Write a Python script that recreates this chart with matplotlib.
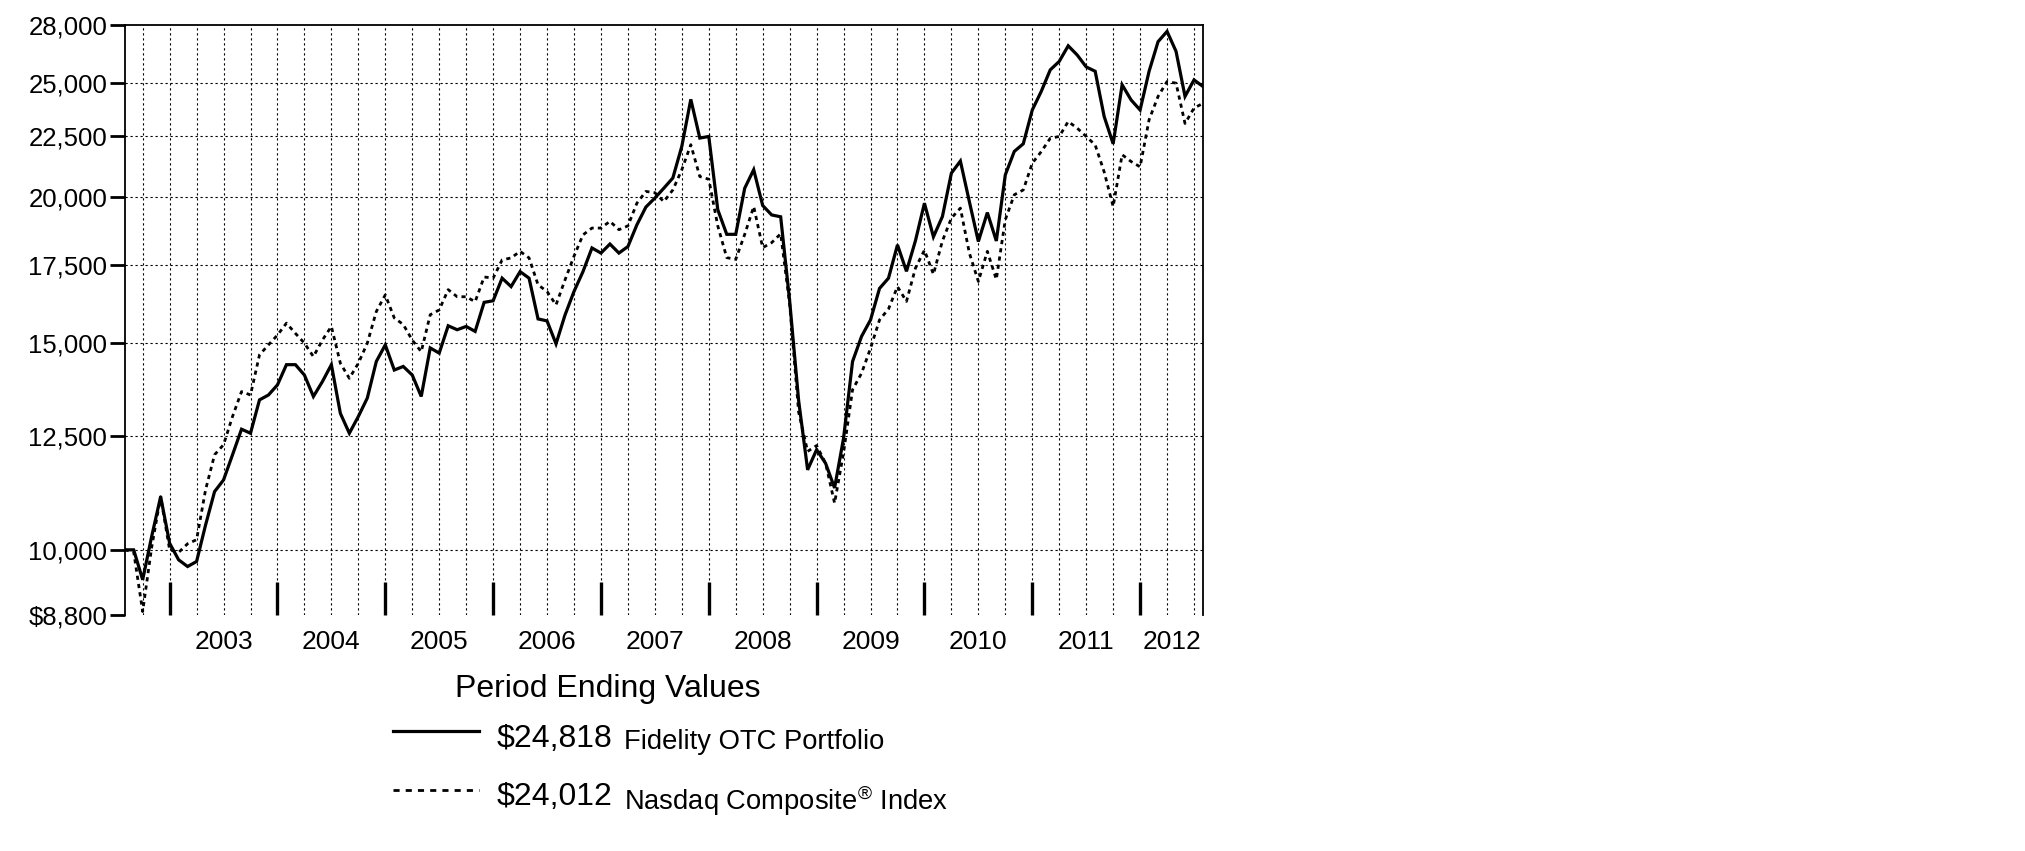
import numpy as np
import matplotlib
matplotlib.use('Agg')
import matplotlib.pyplot as plt
from matplotlib.lines import Line2D
from matplotlib.ticker import FixedLocator, FixedFormatter, NullLocator

plt.rcParams['font.family'] = ['Liberation Sans', 'DejaVu Sans']
plt.rcParams['mathtext.fontset'] = 'custom'
plt.rcParams['mathtext.rm'] = 'Liberation Sans'

# miesięczne wartości od 31.07.2002 do 31.07.2012 (indeks = numer miesiąca)
start_year = 2002
start_month = 7

fidelity_otc = [
    10000, 10000, 9430, 10265, 11100, 10130, 9806, 9678, 9774, 10500,
    11210, 11470, 12050, 12670, 12570, 13420, 13550, 13820, 14380, 14380,
    14090, 13510, 13910, 14380, 13070, 12570, 12990, 13470, 14470, 14950,
    14230, 14330, 14090, 13510, 14860, 14710, 15520, 15400, 15500, 15350,
    16250, 16300, 17040, 16760, 17260, 17040, 15730, 15670, 14980, 15850,
    16600, 17260, 18080, 17900, 18220, 17900, 18130, 18920, 19590, 19940,
    20330, 20740, 22070, 24200, 22430, 22500, 19490, 18570, 18570, 20330,
    21080, 19650, 19290, 19220, 16300, 13400, 11700, 12170, 11850, 11290,
    12450, 14470, 15200, 15700, 16700, 17040, 18190, 17270, 18340, 19740,
    18480, 19230, 20940, 21440, 19800, 18310, 19380, 18330, 20870, 21850,
    22180, 23700, 24580, 25640, 26070, 26880, 26400, 25790, 25570, 23400,
    22180, 24900, 24170, 23700, 25570, 27100, 27650, 26590, 24340, 25140,
    24818,
]

nasdaq = [
    10000, 9960, 8860, 10050, 11100, 10000, 9950, 10120, 10200, 11250,
    12050, 12290, 12990, 13640, 13550, 14660, 14950, 15240, 15600, 15290,
    15000, 14610, 15090, 15500, 14420, 14000, 14420, 15000, 15960, 16490,
    15760, 15560, 15090, 14750, 15860, 16010, 16660, 16430, 16430, 16270,
    17080, 17040, 17660, 17730, 17960, 17730, 16820, 16600, 16170, 16980,
    17790, 18550, 18800, 18800, 19050, 18740, 18880, 19740, 20200, 20150,
    19800, 20260, 21080, 22140, 20800, 20690, 18880, 17740, 17680, 18570,
    19610, 18090, 18270, 18590, 16200, 13100, 12130, 12270, 11850, 10960,
    12100, 13690, 14140, 14850, 15700, 16040, 16760, 16280, 17380, 18000,
    17170, 18330, 19170, 19550, 17900, 16930, 17960, 17000, 19110, 20070,
    20260, 21350, 21840, 22420, 22500, 23170, 22870, 22500, 22130, 20990,
    19610, 21710, 21420, 21200, 23250, 24340, 25060, 24980, 23080, 23790,
    24012,
]

y_ticks = [8800, 10000, 12500, 15000, 17500, 20000, 22500, 25000, 28000]
y_labels = ['$8,800', '10,000', '12,500', '15,000', '17,500', '20,000',
            '22,500', '25,000', '28,000']
years = list(range(2003, 2013))

legend_title = 'Period Ending Values'
legend_values = ['$24,818', '$24,012']
legend_names = ['Fidelity OTC Portfolio', 'Nasdaq Composite$^{\u00ae}$ Index']

n = len(fidelity_otc)
t = np.arange(n)
months = [(start_month - 1 + i) % 12 + 1 for i in t]

W, H = 2025, 851
fig = plt.figure(figsize=(W / 100, H / 100), dpi=100)
ax = fig.add_axes([124.7 / W, (H - 615) / H, (1203 - 124.7) / W, 590 / H])

ax.plot(t, fidelity_otc, color='black', lw=2.3, solid_joinstyle='miter', zorder=3)
ax.plot(t, nasdaq, color='black', lw=2.0, linestyle=(0, (1.5, 1.5)), zorder=3)

ax.set_yscale('log')
ax.set_ylim(y_ticks[0], y_ticks[-1])
ax.set_xlim(0, n - 1)

ax.yaxis.set_major_locator(FixedLocator(y_ticks))
ax.yaxis.set_major_formatter(FixedFormatter(y_labels))
ax.yaxis.set_minor_locator(NullLocator())
ax.tick_params(axis='y', direction='out', length=10.5, width=2, pad=2,
               labelsize=18.5)

# pozioma siatka
for v in y_ticks[1:-1]:
    ax.axhline(v, color='black', lw=0.8, linestyle=(0, (2, 2.5)), zorder=1)

# pionowa siatka co kwartał
for i in t:
    if months[i] in (3, 6, 9, 12) and 0 < i < n - 1:
        ax.axvline(i, color='black', lw=0.8, linestyle=(0, (2, 2.5)), zorder=1)

# znaczniki końca roku i podpisy lat
dec_idx = [i for i in t if months[i] == 12]
ax.xaxis.set_major_locator(FixedLocator(dec_idx))
ax.xaxis.set_major_formatter(FixedFormatter([''] * len(dec_idx)))
ax.tick_params(axis='x', which='major', direction='in', length=24, width=2.4,
               bottom=True, top=False)
edges = dec_idx + [n - 1]
mids = [(a + b) / 2 for a, b in zip(edges[:-1], edges[1:])]
ax.xaxis.set_minor_locator(FixedLocator(mids))
ax.xaxis.set_minor_formatter(FixedFormatter([str(y) for y in years]))
ax.tick_params(axis='x', which='minor', length=0, pad=11, labelsize=19)

ax.spines['bottom'].set_visible(False)
for s in ('left', 'top', 'right'):
    ax.spines[s].set_linewidth(1.3)

# legenda
def fx(px):
    return px / W

def fy(py):
    return 1 - py / H

fig.text(fx(608), fy(697), legend_title, fontsize=23, ha='center', va='baseline')
line_y = [731, 790]
styles = [dict(lw=2.3), dict(lw=2.0, linestyle=(0, (2.2, 2.2)))]
value_base = [747, 805]
name_base = [749, 810]
for k in range(2):
    fig.add_artist(Line2D([fx(393), fx(479)], [fy(line_y[k])] * 2,
                          color='black', transform=fig.transFigure, **styles[k]))
    fig.text(fx(497), fy(value_base[k]), legend_values[k], fontsize=23,
             va='baseline')
    fig.text(fx(624), fy(name_base[k]), legend_names[k], fontsize=19.7,
             va='baseline')

fig.savefig('out.png', dpi=100)
